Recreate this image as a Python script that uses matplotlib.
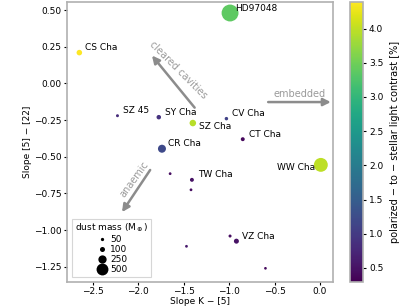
import matplotlib
matplotlib.use("Agg")
import matplotlib.pyplot as plt
import numpy as np
from matplotlib.lines import Line2D

names = ["HD97048", "CS Cha", "SZ 45", "SY Cha", "SZ Cha", "CR Cha", "CV Cha", "CT Cha",
         "WW Cha", "", "TW Cha", "", "", "", "VZ Cha", ""]
slope_k5 = [-0.99, -2.65, -2.23, -1.775, -1.40, -1.74, -1.03, -0.85,
            0.01, -1.65, -1.41, -1.42, -1.47, -0.99, -0.92, -0.60]
slope_522 = [0.48, 0.21, -0.22, -0.23, -0.27, -0.445, -0.24, -0.38,
             -0.555, -0.615, -0.657, -0.725, -1.11, -1.04, -1.075, -1.26]
contrast = [3.37, 4.39, 0.8, 0.9, 3.95, 1.2, 1.1, 0.38,
            3.98, 0.45, 0.5, 0.45, 0.6, 0.45, 0.5, 0.4]
dust_mass = [1000, 120, 44, 83, 160, 235, 55, 67,
             680, 40, 67, 40, 40, 45, 100, 38]
legend_masses = [50, 100, 250, 500]

plt.rcParams['font.family'] = ['DejaVu Sans']
fs = 6.5

def msize(m):
    return np.maximum(0.15 * np.asarray(m, dtype=float) - 2, 3)

fig = plt.figure(figsize=(4.11, 3.08), dpi=100)
ax = fig.add_axes([0.163, 0.086, 0.647, 0.9075])
cax = fig.add_axes([0.852, 0.086, 0.032, 0.9075])

sc = ax.scatter(slope_k5, slope_522, s=msize(dust_mass), c=contrast, cmap='viridis',
                vmin=0.3, vmax=4.39, linewidths=0, zorder=3)

for n, x, y in zip(names, slope_k5, slope_522):
    if not n:
        continue
    if n == "WW Cha":
        ax.text(x - 0.06, y - 0.015, n, fontsize=fs, ha='right', va='center')
    elif n == "HD97048":
        ax.text(x + 0.055, y + 0.03, n, fontsize=fs, ha='left', va='center')
    elif n == "SZ Cha":
        ax.text(x + 0.065, y - 0.025, n, fontsize=fs, ha='left', va='center')
    else:
        ax.text(x + 0.065, y + 0.035, n, fontsize=fs, ha='left', va='center')

ax.set_xlim(-2.786, 0.143)
ax.set_ylim(-1.35, 0.555)
ax.set_xticks([-2.5, -2.0, -1.5, -1.0, -0.5, 0.0])
ax.set_yticks([-1.25, -1.0, -0.75, -0.5, -0.25, 0.0, 0.25, 0.5])
ax.set_yticklabels(["\u22121.25", "\u22121.00", "\u22120.75", "\u22120.50", "\u22120.25", "0.00", "0.25", "0.50"])
ax.tick_params(labelsize=fs, length=2.5, width=0.8, pad=1.5)
ax.set_xlabel("Slope K \u2212 [5]", fontsize=fs, labelpad=0.5)
ax.set_ylabel("Slope [5] \u2212 [22]", fontsize=fs, labelpad=1)
for sp in ax.spines.values():
    sp.set_color('#b0b0b0')
    sp.set_linewidth(1.2)

acol = '#8c8c8c'
tcol = '#9a9a9a'
aprops = dict(arrowstyle='-|>', color=acol, lw=1.8, mutation_scale=11, shrinkA=0, shrinkB=0)
ax.annotate("", xy=(-1.85, 0.19), xytext=(-1.38, -0.165), arrowprops=aprops)
ax.text(-1.56, 0.09, "cleared cavities", fontsize=7, color=tcol, rotation=-45,
        ha='center', va='center', rotation_mode='anchor')
ax.annotate("", xy=(0.12, -0.127), xytext=(-0.57, -0.127), arrowprops=aprops)
ax.text(-0.22, -0.07, "embedded", fontsize=7, color=tcol, ha='center', va='center')
ax.annotate("", xy=(-2.18, -0.877), xytext=(-1.87, -0.59), arrowprops=aprops)
ax.text(-2.05, -0.65, "anaemic", fontsize=7, color=tcol, rotation=54,
        ha='center', va='center', rotation_mode='anchor')

handles = [Line2D([], [], ls='', marker='o', color='black',
                  markersize=np.sqrt(msize(m)), markeredgewidth=0) for m in legend_masses]
leg = ax.legend(handles, [str(m) for m in legend_masses], title="dust mass (M$_\\oplus$)",
                loc='lower left', fontsize=fs, title_fontsize=fs, handletextpad=0.1,
                labelspacing=0.1, borderpad=0.35, handlelength=1.6, fancybox=False,
                borderaxespad=0.5)
leg.get_frame().set_edgecolor('#cccccc')
leg.get_frame().set_linewidth(0.8)

cb = fig.colorbar(sc, cax=cax)
cb.set_ticks([0.5, 1.0, 1.5, 2.0, 2.5, 3.0, 3.5, 4.0])
cb.ax.tick_params(labelsize=fs, length=2.5, width=0.8, pad=1.5)
cb.outline.set_edgecolor('#b0b0b0')
cb.outline.set_linewidth(1.2)
cb.set_label("polarized \u2212 to \u2212 stellar light contrast [%]", fontsize=7, labelpad=5)

fig.savefig("out.png", dpi=100)
